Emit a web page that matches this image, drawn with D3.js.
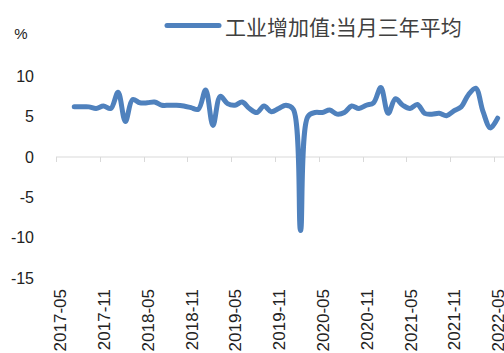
<!DOCTYPE html>
<html><head><meta charset="utf-8">
<script src="https://cdn.jsdelivr.net/npm/d3@7"></script>
<style>
html,body{margin:0;padding:0;background:#fff;}
svg{display:block;}
</style></head>
<body>
<svg id="chart" width="504" height="353"></svg>
<script>
const categories = ["2017-05","2017-06","2017-07","2017-08","2017-09","2017-10","2017-11","2017-12",
"2018-01","2018-02","2018-03","2018-04","2018-05","2018-06","2018-07","2018-08","2018-09","2018-10","2018-11","2018-12",
"2019-01","2019-02","2019-03","2019-04","2019-05","2019-06","2019-07","2019-08","2019-09","2019-10","2019-11","2019-12",
"2020-01","2020-02","2020-03","2020-04","2020-05","2020-06","2020-07","2020-08","2020-09","2020-10","2020-11","2020-12",
"2021-01","2021-02","2021-03","2021-04","2021-05","2021-06","2021-07","2021-08","2021-09","2021-10","2021-11","2021-12",
"2022-01","2022-02","2022-03","2022-04","2022-05"];
const values = [null,null,6.2,6.2,6.2,6.0,6.3,6.0,
8.0,4.4,7.1,6.7,6.7,6.8,6.4,6.4,6.4,6.3,6.1,5.9,
8.3,3.9,7.5,6.6,6.4,6.8,6.0,5.5,6.3,5.6,6.0,6.4,
5.9,-9.1,5.0,5.5,5.5,5.8,5.3,5.5,6.3,6.0,6.4,6.7,
8.6,5.4,7.2,6.4,6.0,6.5,5.4,5.3,5.4,5.1,5.7,6.2,
7.7,8.5,5.6,3.6,4.8];
const xTickLabels = ["2017-05","2017-11","2018-05","2018-11","2019-05","2019-11","2020-05","2020-11","2021-05","2021-11","2022-05"];
const yTicks = [10,5,0,-5,-10,-15];
const seriesName = "工业增加值:当月三年平均";
const unitLabel = "%";

const svg = d3.select("#chart");
const left = 56, right = 504;
const x = d3.scaleBand().domain(categories).range([left, left + 7.3*categories.length]).paddingInner(0).paddingOuter(0);
const y = d3.scaleLinear().domain([-15, 15]).range([278.3, 35.7]);
const blue = "#4f81bd";
const textColor = "#404040";

// x axis line at zero with ticks at category boundaries every 6
svg.append("line").attr("x1", left).attr("x2", right).attr("y1", y(0)).attr("y2", y(0))
  .attr("stroke", "#d9d9d9").attr("stroke-width", 1);
xTickLabels.forEach(c => {
  const xb = Math.round(x(c)) + 0.5;
  svg.append("line").attr("x1", xb).attr("x2", xb).attr("y1", y(0)).attr("y2", y(0) + 5)
    .attr("stroke", "#d9d9d9").attr("stroke-width", 1);
  const xc = x(c) + x.bandwidth()/2 + 1;
  svg.append("text").attr("transform", `translate(${xc},289) rotate(-90)`)
    .attr("text-anchor", "end").attr("dominant-baseline", "central")
    .attr("font-family", "Liberation Sans, Arial, sans-serif").attr("font-size", 17)
    .attr("fill", "#222").text(c);
});

// y labels
yTicks.forEach(t => {
  svg.append("text").attr("x", 34).attr("y", y(t)).attr("text-anchor", "end")
    .attr("dominant-baseline", "central")
    .attr("font-family", "Liberation Sans, Arial, sans-serif").attr("font-size", 16)
    .attr("fill", "#222").text(t);
});
svg.append("text").attr("x", 21).attr("y", 33).attr("text-anchor", "middle")
  .attr("dominant-baseline", "central")
  .attr("font-family", "Liberation Sans, Arial, sans-serif").attr("font-size", 15)
  .attr("fill", "#222").text(unitLabel);

// line
const pts = categories.map((c, i) => ({c, v: values[i]}));
const line = d3.line()
  .defined(d => d.v !== null)
  .x(d => x(d.c) + x.bandwidth()/2)
  .y(d => y(d.v))
  .curve(d3.curveCatmullRom.alpha(0.5));
svg.append("path").datum(pts).attr("d", line).attr("fill", "none")
  .attr("stroke", blue).attr("stroke-width", 5)
  .attr("stroke-linecap", "round").attr("stroke-linejoin", "round");

// legend
svg.append("line").attr("x1", 167).attr("x2", 219).attr("y1", 25.5).attr("y2", 25.5)
  .attr("stroke", blue).attr("stroke-width", 5).attr("stroke-linecap", "round");
svg.append("text").attr("x", 225).attr("y", 26).attr("dominant-baseline", "central")
  .attr("font-family", "Noto Sans CJK SC, sans-serif").attr("font-size", 21)
  .attr("fill", textColor).text(seriesName);
</script>
</body></html>
